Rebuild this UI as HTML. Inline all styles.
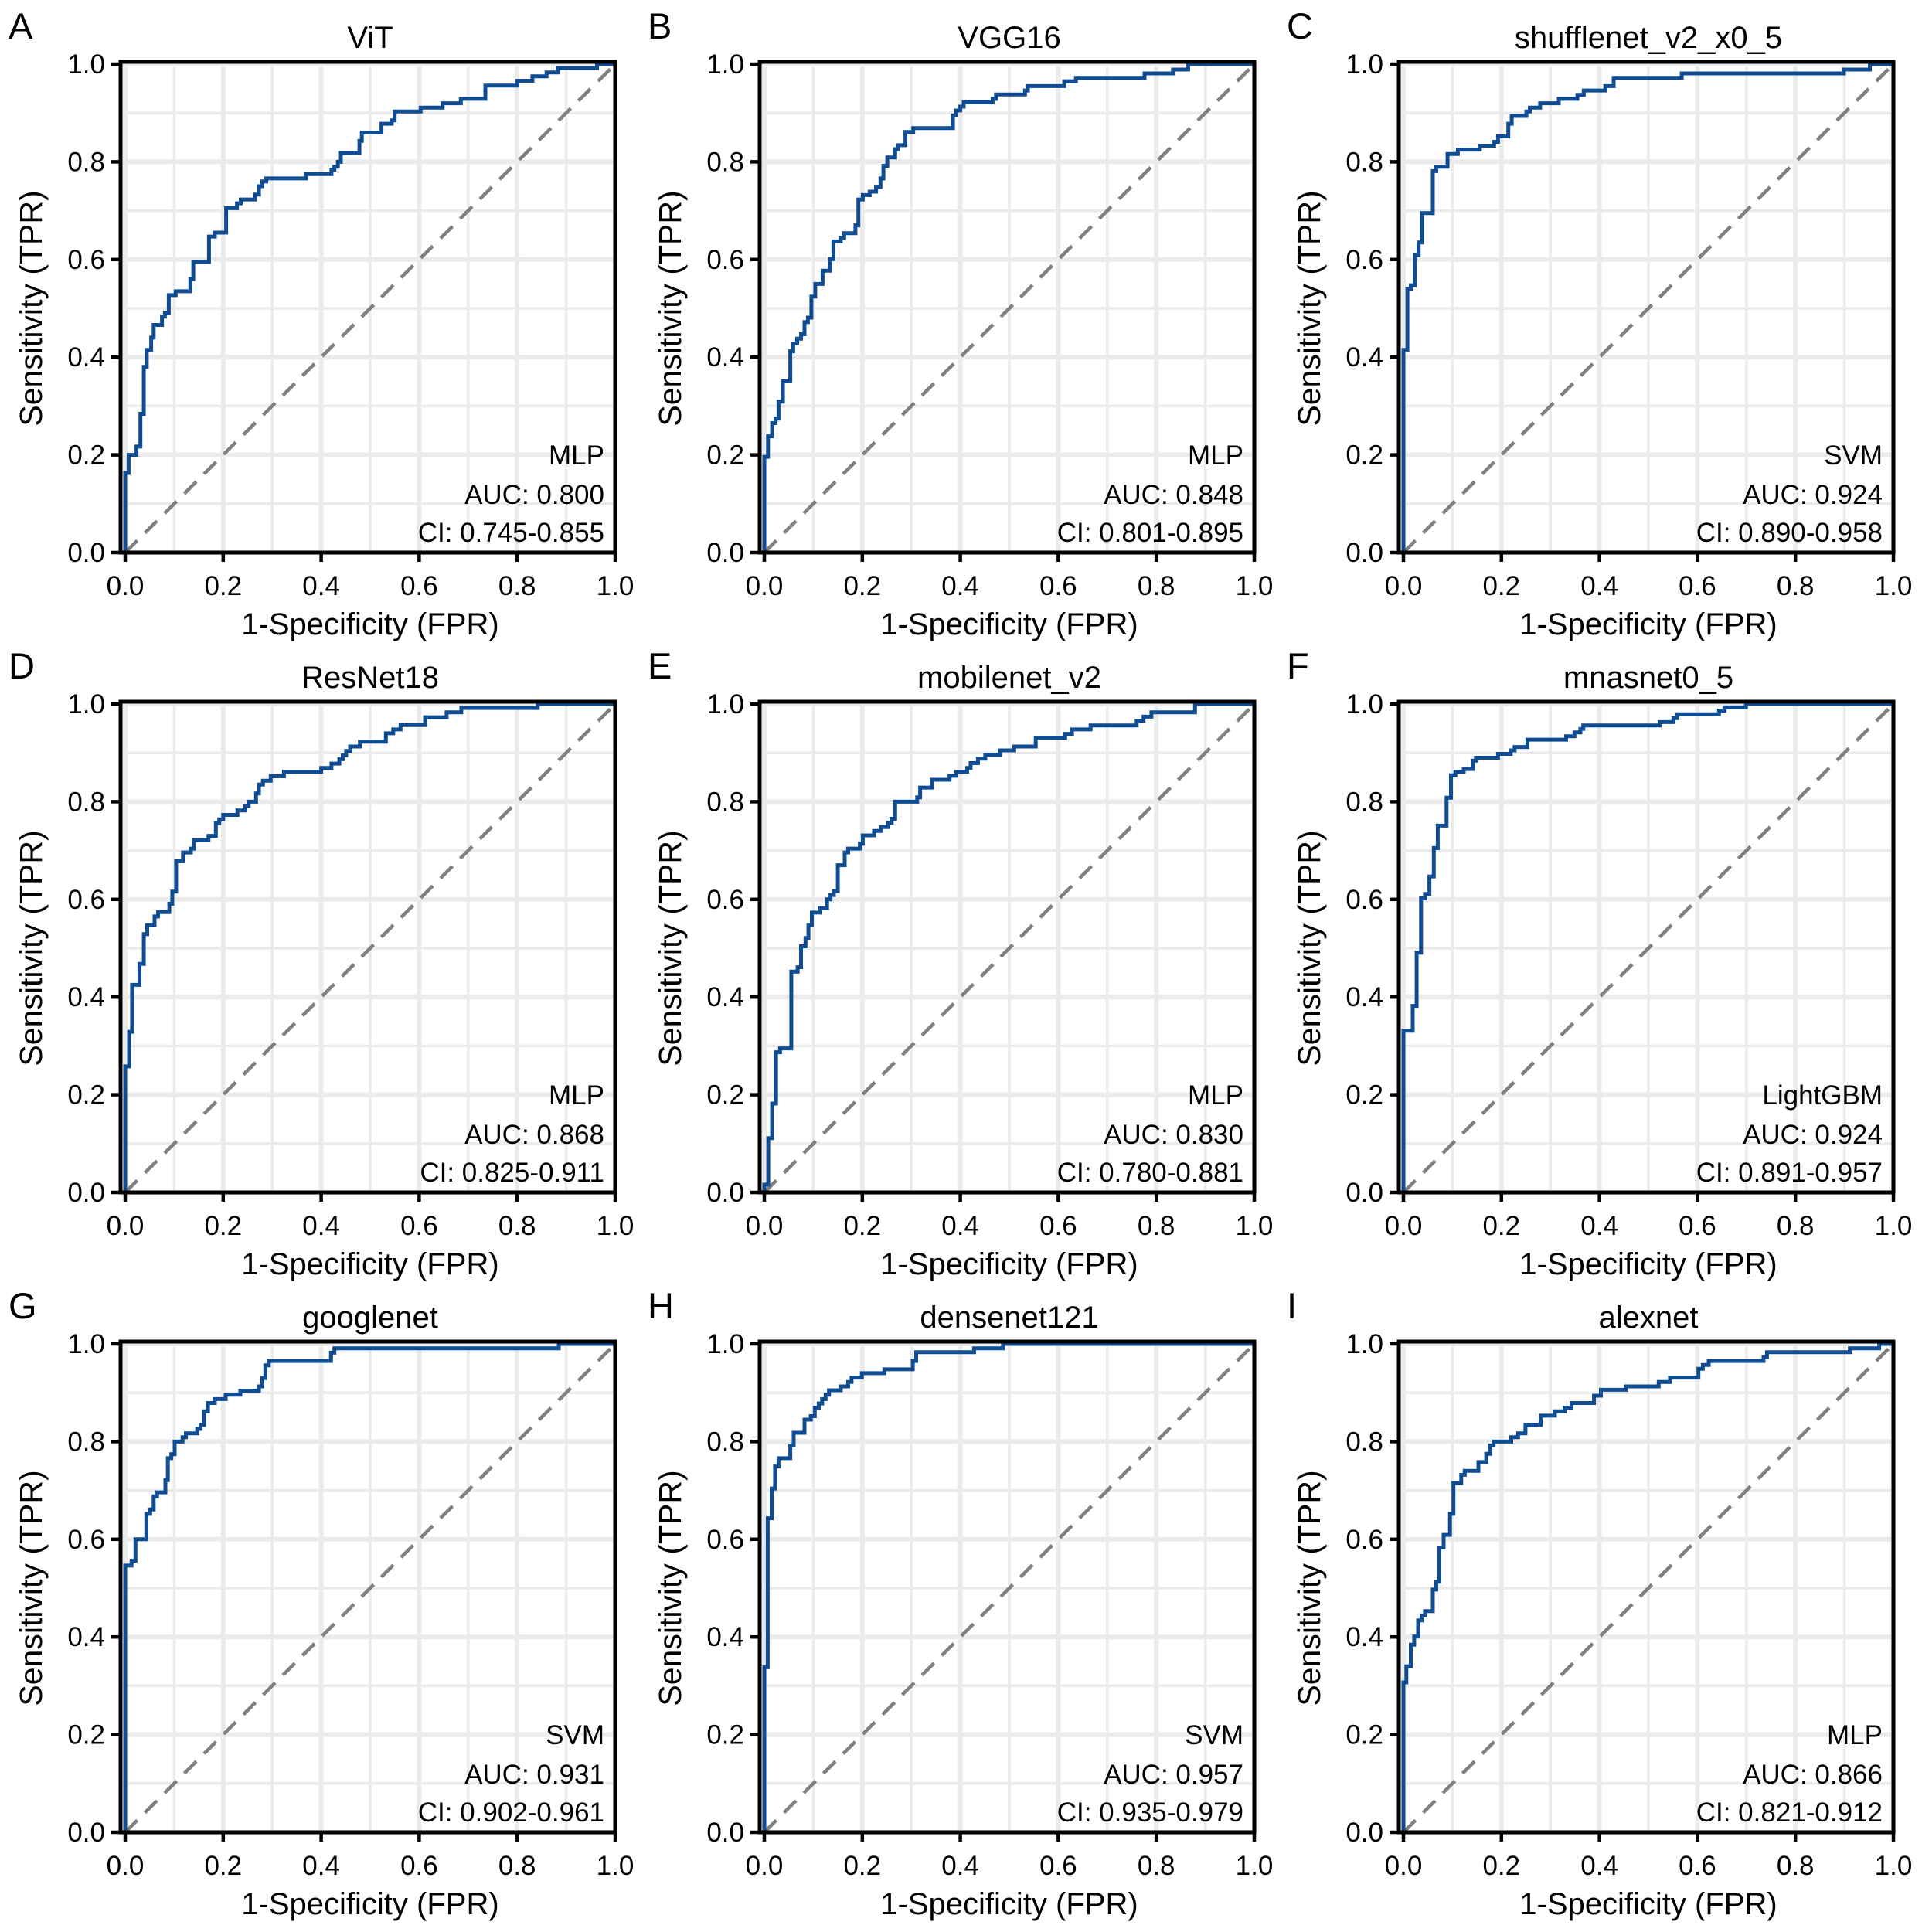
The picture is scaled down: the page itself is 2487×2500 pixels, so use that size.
<!DOCTYPE html>
<html><head><meta charset="utf-8">
<style>
html,body{margin:0;padding:0;background:#fff;}
svg{display:block;font-family:"Liberation Sans",Arial,sans-serif;}
</style></head>
<body>
<svg id="fig" width="2487" height="2500" viewBox="0 0 2487 2500" xmlns="http://www.w3.org/2000/svg"></svg>
<script>
const panelLetters = ["A","B","C","D","E","F","G","H","I"];
const panelTitles = ["ViT","VGG16","shufflenet_v2_x0_5","ResNet18","mobilenet_v2","mnasnet0_5","googlenet","densenet121","alexnet"];
const panelModels = ["MLP","MLP","SVM","MLP","MLP","LightGBM","SVM","SVM","MLP"];
const panelAUC = ["0.800","0.848","0.924","0.868","0.830","0.924","0.931","0.957","0.866"];
const panelCI = ["0.745-0.855","0.801-0.895","0.890-0.958","0.825-0.911","0.780-0.881","0.891-0.957","0.902-0.961","0.935-0.979","0.821-0.912"];
const tickLabels = ["0.0","0.2","0.4","0.6","0.8","1.0"];
const tickValues = [0,0.2,0.4,0.6,0.8,1.0];
const minorValues = [0.1,0.3,0.5,0.7,0.9];

const vitFpr = [0,0.007,0.023,0.031,0.038,0.044,0.053,0.058,0.075,0.081,0.089,0.103,0.133,0.139,0.171,0.183,0.206,0.228,0.236,0.265,0.273,0.28,0.288,0.369,0.421,0.427,0.434,0.44,0.478,0.483,0.523,0.544,0.55,0.603,0.648,0.685,0.735,0.8,0.831,0.86,0.883,0.963];
const vitTpr = [0.163,0.2,0.217,0.284,0.38,0.415,0.44,0.466,0.483,0.49,0.527,0.535,0.56,0.595,0.647,0.655,0.705,0.715,0.723,0.733,0.75,0.76,0.766,0.775,0.784,0.79,0.8,0.818,0.843,0.86,0.878,0.885,0.903,0.911,0.92,0.929,0.956,0.966,0.975,0.983,0.992,1.0];

const vggFpr = [0,0.0075,0.016,0.023,0.029,0.038,0.053,0.059,0.067,0.075,0.082,0.089,0.096,0.104,0.119,0.134,0.141,0.156,0.163,0.186,0.192,0.201,0.215,0.228,0.237,0.243,0.251,0.267,0.273,0.288,0.304,0.385,0.391,0.4,0.407,0.466,0.473,0.532,0.538,0.612,0.636,0.776,0.834,0.865];
const vggTpr = [0.196,0.238,0.265,0.274,0.309,0.351,0.412,0.428,0.438,0.447,0.472,0.481,0.524,0.55,0.577,0.601,0.637,0.644,0.654,0.67,0.723,0.732,0.739,0.748,0.766,0.792,0.809,0.826,0.834,0.861,0.869,0.895,0.905,0.913,0.922,0.929,0.938,0.946,0.955,0.965,0.972,0.981,0.989,1.0];

const shuffleFpr = [0,0.008,0.015,0.023,0.031,0.038,0.06,0.067,0.09,0.111,0.156,0.185,0.193,0.214,0.221,0.251,0.258,0.279,0.317,0.355,0.368,0.412,0.429,0.568,0.899,0.952];
const shuffleTpr = [0.415,0.54,0.547,0.609,0.635,0.695,0.781,0.79,0.816,0.825,0.833,0.841,0.852,0.878,0.894,0.903,0.911,0.92,0.929,0.937,0.946,0.955,0.972,0.981,0.989,1.0];

const resnetFpr = [0,0.008,0.014,0.029,0.038,0.045,0.06,0.067,0.09,0.096,0.104,0.118,0.134,0.14,0.17,0.185,0.192,0.2,0.229,0.245,0.252,0.267,0.273,0.281,0.297,0.324,0.4,0.421,0.437,0.444,0.451,0.459,0.479,0.532,0.547,0.562,0.612,0.656,0.686,0.842];
const resnetTpr = [0.258,0.329,0.425,0.468,0.529,0.547,0.565,0.574,0.591,0.616,0.678,0.696,0.704,0.721,0.73,0.756,0.764,0.773,0.782,0.791,0.8,0.817,0.835,0.843,0.852,0.861,0.869,0.878,0.887,0.895,0.904,0.913,0.923,0.94,0.948,0.957,0.973,0.983,0.992,1.0];

const mobileFpr = [0,0.008,0.016,0.024,0.032,0.055,0.068,0.075,0.084,0.09,0.097,0.113,0.128,0.135,0.142,0.15,0.164,0.171,0.195,0.201,0.224,0.238,0.253,0.26,0.267,0.312,0.318,0.342,0.378,0.392,0.414,0.421,0.436,0.451,0.481,0.51,0.554,0.614,0.628,0.666,0.76,0.774,0.79,0.879];
const mobileTpr = [0.016,0.111,0.182,0.287,0.295,0.452,0.461,0.504,0.521,0.547,0.573,0.582,0.6,0.609,0.617,0.67,0.696,0.704,0.714,0.731,0.74,0.748,0.757,0.765,0.8,0.809,0.829,0.845,0.853,0.861,0.869,0.879,0.888,0.896,0.905,0.913,0.931,0.939,0.948,0.956,0.966,0.974,0.983,1.0];

const mnasFpr = [0,0.019,0.027,0.036,0.044,0.053,0.062,0.07,0.088,0.097,0.106,0.123,0.142,0.148,0.193,0.219,0.227,0.253,0.332,0.349,0.361,0.367,0.523,0.551,0.559,0.644,0.655,0.699];
const mnasTpr = [0.331,0.382,0.491,0.602,0.611,0.647,0.705,0.751,0.808,0.854,0.861,0.867,0.884,0.89,0.898,0.905,0.912,0.927,0.934,0.942,0.949,0.956,0.963,0.971,0.979,0.986,0.993,1.0];

const googleFpr = [0,0.013,0.021,0.043,0.051,0.058,0.065,0.082,0.087,0.094,0.101,0.117,0.124,0.147,0.154,0.161,0.169,0.183,0.205,0.235,0.273,0.28,0.286,0.293,0.42,0.427,0.885];
const googleTpr = [0.546,0.556,0.6,0.652,0.661,0.688,0.696,0.721,0.766,0.774,0.8,0.809,0.817,0.826,0.834,0.862,0.879,0.887,0.896,0.904,0.913,0.93,0.956,0.965,0.982,0.991,1.0];

const denseFpr = [0,0.007,0.015,0.022,0.029,0.053,0.06,0.082,0.095,0.103,0.111,0.118,0.125,0.132,0.156,0.171,0.178,0.199,0.245,0.303,0.31,0.428,0.487];
const denseTpr = [0.338,0.643,0.704,0.749,0.766,0.792,0.818,0.845,0.852,0.869,0.878,0.887,0.896,0.905,0.913,0.922,0.931,0.94,0.948,0.965,0.983,0.991,1.0];

const alexFpr = [0,0.006,0.015,0.022,0.03,0.037,0.044,0.06,0.067,0.073,0.082,0.095,0.102,0.118,0.125,0.153,0.169,0.177,0.184,0.22,0.234,0.249,0.28,0.309,0.329,0.343,0.389,0.403,0.455,0.521,0.544,0.602,0.611,0.623,0.735,0.742,0.911,0.971];
const alexTpr = [0.307,0.34,0.384,0.401,0.434,0.444,0.453,0.497,0.513,0.583,0.609,0.652,0.715,0.732,0.74,0.758,0.775,0.792,0.8,0.809,0.817,0.834,0.853,0.862,0.869,0.879,0.894,0.906,0.913,0.922,0.931,0.949,0.957,0.965,0.973,0.983,0.991,1.0];

const allFpr = [vitFpr,vggFpr,shuffleFpr,resnetFpr,mobileFpr,mnasFpr,googleFpr,denseFpr,alexFpr];
const allTpr = [vitTpr,vggTpr,shuffleTpr,resnetTpr,mobileTpr,mnasTpr,googleTpr,denseTpr,alexTpr];

const NS = "http://www.w3.org/2000/svg";
const svg = document.getElementById("fig");
const colX = [162, 989, 1816];
const rowY = [83, 911, 1739];
const PW = 634, PH = 632;

function mk(tag, attrs, parent) {
  const e = document.createElementNS(NS, tag);
  for (const k in attrs) e.setAttribute(k, attrs[k]);
  parent.appendChild(e);
  return e;
}

for (let p = 0; p < 9; p++) {
  const x0 = colX[p % 3], y1 = rowY[Math.floor(p / 3)], y0 = y1 + PH;
  const xs = v => x0 + v * PW;
  const ys = v => y0 - v * PH;
  const g = mk("g", {}, svg);
  
  

  const grid = mk("g", {}, g);
  
  
  minorValues.forEach(v => {
    mk("line", {x1: xs(v), x2: xs(v), y1: y1 - 3, y2: y0, stroke: "#ebebeb", "stroke-width": 3.5}, grid);
    mk("line", {x1: x0 - 6, x2: x0 + PW, y1: ys(v), y2: ys(v), stroke: "#ebebeb", "stroke-width": 3.5}, grid);
  });
  tickValues.forEach(v => {
    mk("line", {x1: xs(v), x2: xs(v), y1: y1 - 3, y2: y0, stroke: "#ebebeb", "stroke-width": 6}, grid);
    mk("line", {x1: x0 - 6, x2: x0 + PW, y1: ys(v), y2: ys(v), stroke: "#ebebeb", "stroke-width": 6}, grid);
  });

  const diag = mk("line", {x1: xs(0), y1: ys(0), x2: xs(1), y2: ys(1), stroke: "#808080", "stroke-width": 4.5, "stroke-dasharray": "22 14"}, g);
  
  

  const fpr = allFpr[p], tpr = allTpr[p];
  let d = "M" + xs(0) + " " + ys(0);
  const n = Math.min(fpr.length, tpr.length);
  for (let i = 0; i < n; i++) {
    d += " H" + xs(fpr[i]).toFixed(1) + " V" + ys(tpr[i]).toFixed(1);
  }
  d += " H" + xs(1);
  const curve = mk("path", {d: d, fill: "none", stroke: "#0f4c92", "stroke-width": 5, "stroke-linejoin": "miter"}, g);
  
  

  const frame = mk("rect", {x: x0 - 6, y: y1 - 3, width: PW + 6, height: PH + 3, fill: "none", stroke: "#000", "stroke-width": 5}, g);
  
  

  tickValues.forEach((v, i) => {
    mk("line", {x1: xs(v), x2: xs(v), y1: y0, y2: y0 + 12, stroke: "#000", "stroke-width": 4.5}, g);
    mk("line", {x1: x0 - 6, x2: x0 - 18, y1: ys(v), y2: ys(v), stroke: "#000", "stroke-width": 4.5}, g);
    const xl = mk("text", {x: xs(v), y: y0 + 55, "text-anchor": "middle", "font-size": 35, fill: "#000"}, g);
    xl.textContent = tickLabels[i];
    
    
    const yl = mk("text", {x: x0 - 26, y: ys(v) + 12, "text-anchor": "end", "font-size": 35, fill: "#000"}, g);
    yl.textContent = tickLabels[i];
    
    
  });

  const xt = mk("text", {x: x0 + PW / 2, y: y0 + 106, "text-anchor": "middle", "font-size": 40, fill: "#000"}, g);
  xt.textContent = "1-Specificity (FPR)";
  
  

  const yt = mk("text", {x: 0, y: 0, "text-anchor": "middle", "font-size": 41, fill: "#000", transform: "translate(" + (x0 - 108) + "," + (y1 + PH / 2) + ") rotate(-90)"}, g);
  yt.textContent = "Sensitivity (TPR)";
  
  

  const tt = mk("text", {x: x0 + PW / 2, y: y1 - 21, "text-anchor": "middle", "font-size": 40, fill: "#000"}, g);
  tt.textContent = panelTitles[p];
  
  

  const lt = mk("text", {x: x0 - 151, y: y1 - 33, "font-size": 47, fill: "#000"}, g);
  lt.textContent = panelLetters[p];
  
  

  const ann = [panelModels[p], "AUC: " + panelAUC[p], "CI: " + panelCI[p]];
  const offs = [126, 75, 26];
  ann.forEach((s, i) => {
    const t = mk("text", {x: x0 + PW - 14, y: y0 - offs[i] + 12, "text-anchor": "end", "font-size": 35, fill: "#000"}, g);
    t.textContent = s;
    
    
  });
}
</script>
</body></html>
